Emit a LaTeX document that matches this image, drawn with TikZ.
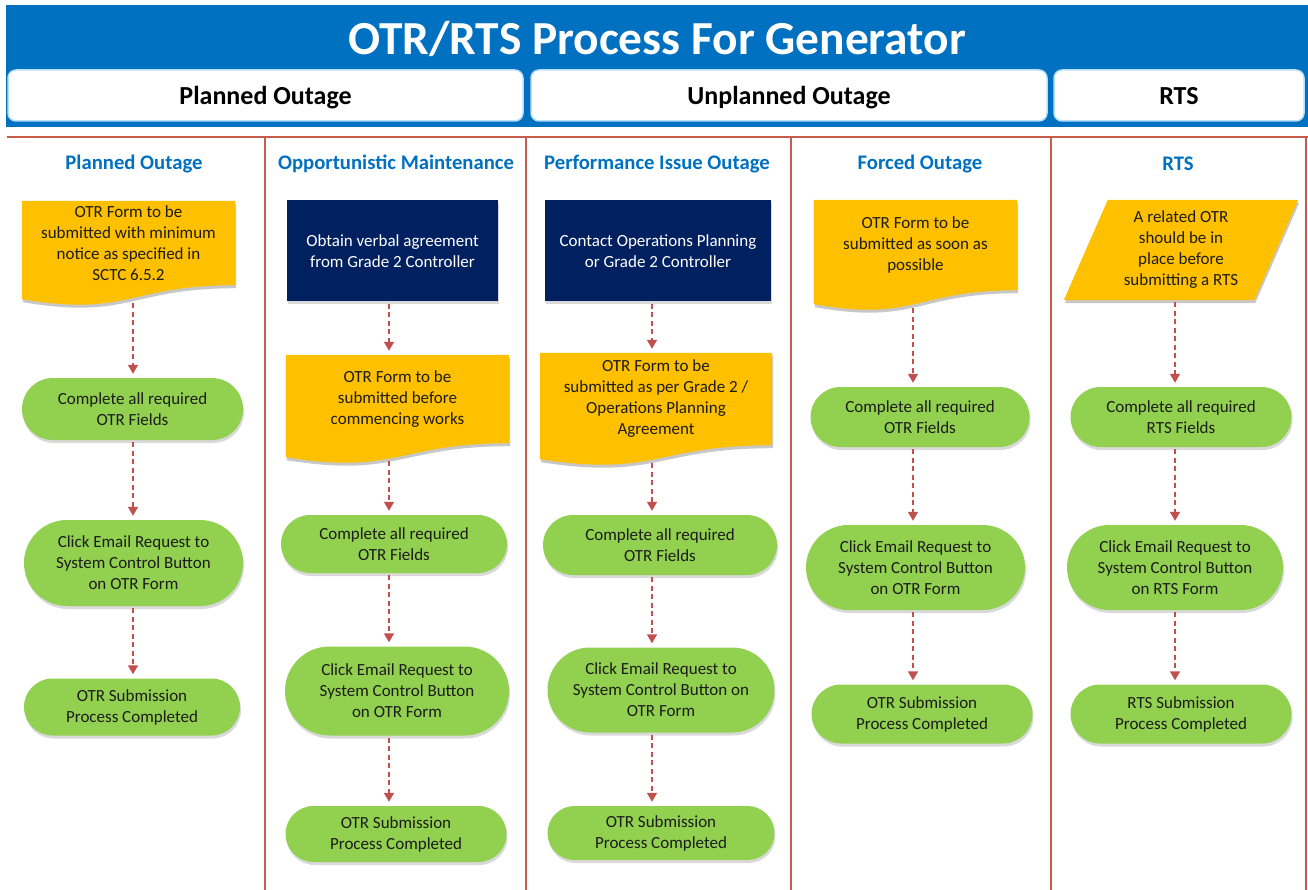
\documentclass[tikz,border=0pt]{standalone}
\usepackage{fontspec}
\setmainfont{Carlito}
\usetikzlibrary{arrows.meta,shapes.misc,shadows,backgrounds}
\definecolor{hdrblue}{RGB}{0,112,192}
\definecolor{colblue}{RGB}{0,112,192}
\definecolor{tabedge}{RGB}{185,222,248}
\definecolor{divred}{RGB}{200,92,74}
\definecolor{arrred}{RGB}{192,80,77}
\definecolor{docyel}{RGB}{255,192,0}
\definecolor{navyc}{RGB}{0,32,96}
\definecolor{grn}{RGB}{146,208,80}
\definecolor{txt}{RGB}{28,28,28}
\newcommand\docbg[1]{%
  \begin{pgfonlayer}{background}
  \fill[black!22] ([xshift=1pt,yshift=-3pt]#1.north west) -- ([xshift=1pt,yshift=-3pt]#1.north east) -- ([xshift=1pt,yshift=-3pt]#1.south east) .. controls ([xshift=1pt,yshift=-3pt]#1.south) and ([xshift=1pt,yshift=-35pt]#1.south) .. ([xshift=1pt,yshift=-17pt]#1.south west) -- cycle;
  \fill[docyel] (#1.north west) -- (#1.north east) -- (#1.south east) .. controls (#1.south) and ([yshift=-32pt]#1.south) .. ([yshift=-14pt]#1.south west) -- cycle;
  \end{pgfonlayer}}
\newcommand\parbg[1]{%
  \begin{pgfonlayer}{background}
  \fill[black!22] ([xshift=23pt,yshift=-3pt]#1.north west) -- ([xshift=23pt,yshift=-3pt]#1.north east) -- ([xshift=-21pt,yshift=-3pt]#1.south east) -- ([xshift=-21pt,yshift=-3pt]#1.south west) -- cycle;
  \fill[docyel] ([xshift=22pt]#1.north west) -- ([xshift=22pt]#1.north east) -- ([xshift=-22pt]#1.south east) -- ([xshift=-22pt]#1.south west) -- cycle;
  \end{pgfonlayer}}
\tikzset{
  body/.style={font=\fontsize{17}{21}\selectfont, text=txt, align=center, inner sep=0pt},
  docnode/.style={body, rectangle},
  term/.style={body, rounded rectangle, fill=grn, drop shadow={opacity=0.3, shadow xshift=1pt, shadow yshift=-3pt}},
  navybox/.style={body, rectangle, fill=navyc, text=white, drop shadow={opacity=0.3, shadow xshift=1pt, shadow yshift=-3pt}},
  flow/.style={arrred, line width=1.4pt, dash pattern=on 5pt off 3.5pt, -{Triangle[width=10pt,length=9pt]}, shorten >=4pt, shorten <=2pt},
  tab/.style={rectangle, rounded corners=8pt, fill=white, draw=tabedge, line width=1.5pt, font=\fontsize{26}{30}\selectfont\bfseries, text=black, minimum height=51pt, inner sep=0pt, text height=24pt, text depth=5pt},
  colhead/.style={font=\fontsize{20.7}{24}\selectfont\bfseries, text=colblue},
  divline/.style={divred, line width=2pt},
}
\begin{document}
\begin{tikzpicture}[x=1pt,y=-1pt]
\useasboundingbox (0,0) rectangle (1308,890);
% header band
\fill[hdrblue] (6,5) rectangle (1308,127);
\node[font=\fontsize{47.4}{52}\selectfont\bfseries, text=white] (title) at (657,39) {OTR/RTS Process For Generator};
\node[tab, minimum width=515pt] (tabP) at (265.5,95.5) {Planned Outage};
\node[tab, minimum width=516pt] (tabU) at (789,95.5) {Unplanned Outage};
\node[tab, minimum width=250pt] (tabR) at (1179,95.5) {RTS};
% dividers
\draw[divred, line width=2.5pt] (7,137) -- (1308,137);
\foreach \xx in {265,526,791,1051,1306} \draw[divline] (\xx,137) -- (\xx,890);
% column headings
\node[colhead] (h1) at (134,164) {Planned Outage};
\node[colhead] (h2) at (396,164) {Opportunistic Maintenance};
\node[colhead] (h3) at (657,164) {Performance Issue Outage};
\node[colhead] (h4) at (920,164) {Forced Outage};
\node[colhead] (h5) at (1178,164) {RTS};
% arrow columns
\coordinate (c1) at (133,0);
\coordinate (c2) at (389,0);
\coordinate (c3) at (652,0);
\coordinate (c4) at (913,0);
\coordinate (c5) at (1175,0);
% column 1
\node[docnode, minimum width=213pt, minimum height=84pt] (d1) at (128.5,243) {OTR Form to be\\submitted with minimum\\notice as specified in\\SCTC 6.5.2};
\docbg{d1}
\node[term, minimum width=221pt, minimum height=62pt] (t11) at (132.5,409) {Complete all required\\OTR Fields};
\node[term, minimum width=219pt, minimum height=86pt] (t12) at (133.5,563) {Click Email Request to\\System Control Button\\on OTR Form};
\node[term, minimum width=216pt, minimum height=57pt] (t13) at (132,707) {OTR Submission\\Process Completed};
% column 2
\node[navybox, minimum width=211pt, minimum height=101pt] (n2) at (392.5,251) {Obtain verbal agreement\\from Grade 2 Controller};
\node[docnode, minimum width=223pt, minimum height=88pt] (d2) at (397.5,399) {OTR Form to be\\submitted before\\commencing works};
\docbg{d2}
\node[term, minimum width=226pt, minimum height=58pt] (t21) at (394,544) {Complete all required\\OTR Fields};
\node[term, minimum width=224pt, minimum height=89pt] (t22) at (397,691) {Click Email Request to\\System Control Button\\on OTR Form};
\node[term, minimum width=221pt, minimum height=56pt] (t23) at (396,834) {OTR Submission\\Process Completed};
% column 3
\node[navybox, minimum width=226pt, minimum height=101pt] (n3) at (658,251) {Contact Operations Planning\\or Grade 2 Controller};
\node[docnode, minimum width=232pt, minimum height=92pt] (d3) at (656,399) {OTR Form to be\\submitted as per Grade 2 /\\Operations Planning\\Agreement};
\docbg{d3}
\node[term, minimum width=234pt, minimum height=60pt] (t31) at (660,545) {Complete all required\\OTR Fields};
\node[term, minimum width=227pt, minimum height=85pt] (t32) at (661,690) {Click Email Request to\\System Control Button on\\OTR Form};
\node[term, minimum width=227pt, minimum height=54pt] (t33) at (661,833) {OTR Submission\\Process Completed};
% column 4
\node[docnode, minimum width=203pt, minimum height=90pt] (d4) at (915.5,245) {OTR Form to be\\submitted as soon as\\possible};
\docbg{d4}
\node[term, minimum width=219pt, minimum height=60pt] (t41) at (920,417) {Complete all required\\OTR Fields};
\node[term, minimum width=219pt, minimum height=85pt] (t42) at (915.5,567.5) {Click Email Request to\\System Control Button\\on OTR Form};
\node[term, minimum width=221pt, minimum height=59pt] (t43) at (922,714) {OTR Submission\\Process Completed};
% column 5
\node[docnode, minimum width=190pt, minimum height=100pt] (p5) at (1181,250) {A related OTR\\should be in\\place before\\submitting a RTS};
\parbg{p5}
\node[term, minimum width=221pt, minimum height=60pt] (t51) at (1181,417) {Complete all required\\RTS Fields};
\node[term, minimum width=216pt, minimum height=85pt] (t52) at (1175,567.5) {Click Email Request to\\System Control Button\\on RTS Form};
\node[term, minimum width=221pt, minimum height=59pt] (t53) at (1181,714) {RTS Submission\\Process Completed};
% connectors
\draw[flow] ([yshift=-16pt]d1.south -| c1) -- (t11.north -| c1);
\draw[flow] (t11.south -| c1) -- (t12.north -| c1);
\draw[flow] (t12.south -| c1) -- (t13.north -| c1);
\draw[flow] (n2.south -| c2) -- (d2.north -| c2);
\draw[flow] ([yshift=-16pt]d2.south -| c2) -- (t21.north -| c2);
\draw[flow] (t21.south -| c2) -- (t22.north -| c2);
\draw[flow] (t22.south -| c2) -- (t23.north -| c2);
\draw[flow] (n3.south -| c3) -- (d3.north -| c3);
\draw[flow] ([yshift=-16pt]d3.south -| c3) -- (t31.north -| c3);
\draw[flow] (t31.south -| c3) -- (t32.north -| c3);
\draw[flow] (t32.south -| c3) -- (t33.north -| c3);
\draw[flow] ([yshift=-16pt]d4.south -| c4) -- (t41.north -| c4);
\draw[flow] (t41.south -| c4) -- (t42.north -| c4);
\draw[flow] (t42.south -| c4) -- (t43.north -| c4);
\draw[flow] (p5.south -| c5) -- (t51.north -| c5);
\draw[flow] (t51.south -| c5) -- (t52.north -| c5);
\draw[flow] (t52.south -| c5) -- (t53.north -| c5);
\end{tikzpicture}
\end{document}
